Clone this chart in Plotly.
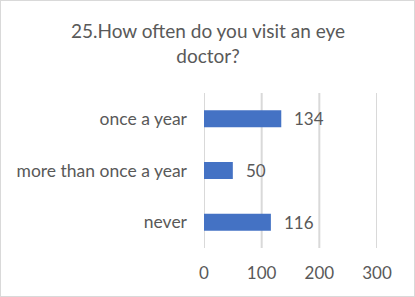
import plotly.graph_objects as go

categories = ["once a year", "more than once a year", "never"]
counts = [134, 50, 116]
x_ticks = [0, 100, 200, 300]

title_text = "25.How often do you visit an eye<br>doctor?"
bar_color = "#4472C4"
text_color = "#595959"
grid_color = "#D9D9D9"
font_family = "Lato, Open Sans, sans-serif"

W, H = 415, 297
L, R, T, B = 204, 38, 93, 49
PW, PH = W - L - R, H - T - B

fig = go.Figure()
fig.add_trace(go.Bar(
    x=counts,
    y=categories,
    orientation="h",
    marker=dict(color=bar_color, line=dict(width=0)),
    width=0.33,
    hoverinfo="skip",
))

# value labels just past the end of each bar
for cat, val in zip(categories, counts):
    fig.add_annotation(
        x=val, y=cat, text=str(val), showarrow=False,
        xanchor="left", xshift=11,
        font=dict(size=17, color=text_color, family=font_family),
    )

# chart title, centred over the whole page
fig.add_annotation(
    text=title_text, showarrow=False,
    xref="paper", yref="paper",
    x=(W / 2 - L) / PW, xanchor="center",
    y=1 + (T - 42.5) / PH, yanchor="middle",
    font=dict(size=19, color=text_color, family=font_family),
)

# vertical gridlines, drawn as shapes so the ones at the range ends show too
grid_shapes = [
    dict(type="line", xref="x", yref="paper", x0=v, x1=v, y0=0, y1=1,
         line=dict(color=grid_color, width=2), layer="below")
    for v in x_ticks
]

frame = dict(
    type="rect", xref="paper", yref="paper",
    x0=-L / PW, x1=1 + R / PW, y0=-B / PH, y1=1 + T / PH,
    line=dict(color=grid_color, width=2),
)

fig.update_layout(
    width=W, height=H,
    margin=dict(l=L, r=R, t=T, b=B),
    paper_bgcolor="white",
    plot_bgcolor="rgba(0,0,0,0)",
    showlegend=False,
    xaxis=dict(
        range=[0, 300], tickvals=x_ticks, showgrid=False, zeroline=False,
        showline=False, ticks="", ticklabelstandoff=13,
        tickfont=dict(size=17, color=text_color, family=font_family),
        fixedrange=True,
    ),
    yaxis=dict(
        autorange="reversed", showgrid=False, zeroline=False,
        showline=False, ticks="", ticklabelstandoff=16,
        tickfont=dict(size=17.5, color=text_color, family=font_family),
        fixedrange=True,
    ),
    shapes=grid_shapes + [frame],
)

fig.write_html("out.html", config={"displayModeBar": False})
